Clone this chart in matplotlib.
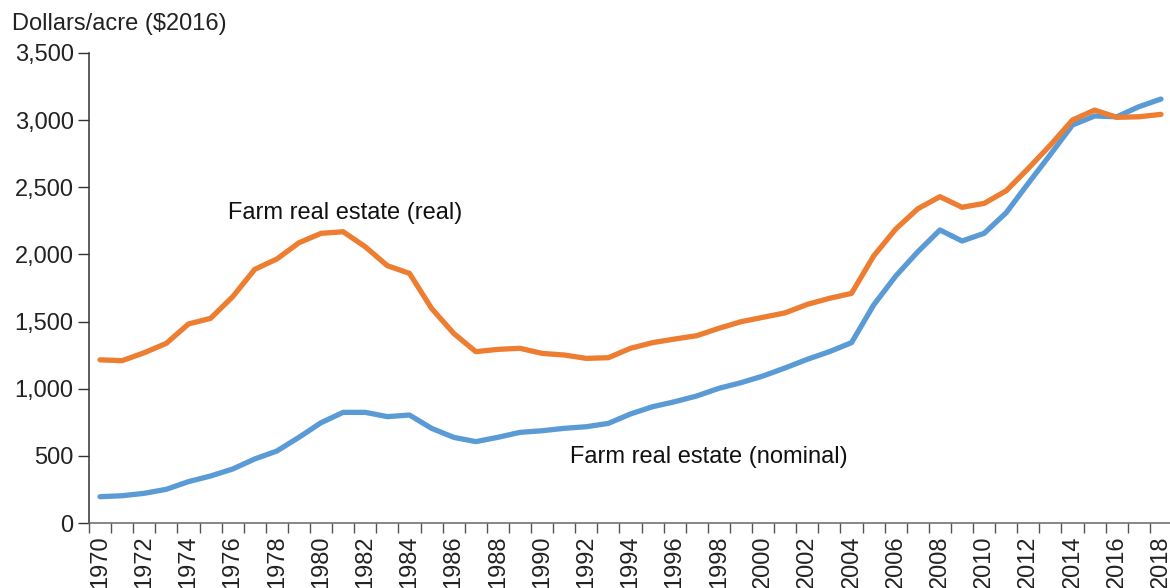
import numpy as np
import matplotlib.pyplot as plt

plt.rcParams['font.family'] = ['Liberation Sans', 'DejaVu Sans']

years = list(range(1970, 2019))

# Farm real estate value, dollars/acre ($2016)
real = [1215, 1209, 1268, 1338, 1482, 1524, 1685, 1889, 1966, 2087,
        2157, 2169, 2057, 1916, 1859, 1598, 1412, 1276, 1293, 1301,
        1263, 1251, 1226, 1231, 1301, 1343, 1370, 1395, 1450, 1499,
        1532, 1565, 1628, 1673, 1710, 1988, 2189, 2340, 2430, 2351,
        2380, 2474, 2641, 2815, 3001, 3075, 3021, 3025, 3043]

nominal = [196, 203, 221, 251, 308, 350, 402, 477, 536, 638,
           747, 824, 824, 792, 804, 705, 638, 606, 638, 675,
           687, 705, 717, 742, 812, 866, 903, 946, 1003, 1045,
           1095, 1155, 1219, 1276, 1343, 1623, 1839, 2020, 2182, 2100,
           2157, 2311, 2530, 2745, 2964, 3031, 3025, 3100, 3157]

label_real = 'Farm real estate (real)'
label_nominal = 'Farm real estate (nominal)'

x = np.arange(len(years))

fig = plt.figure(figsize=(11.7, 5.88), dpi=100)
ax = fig.add_axes([89 / 1170, 65 / 588, 1083 / 1170, 470 / 588])

ax.plot(x, nominal, color='#5B9BD5', lw=3.8, solid_capstyle='round', solid_joinstyle='round')
ax.plot(x, real, color='#ED7D31', lw=3.8, solid_capstyle='round', solid_joinstyle='round')

ax.set_xlim(-0.5, len(years) - 0.5)
ax.set_ylim(0, 3500)

# y axis
ax.set_yticks(np.arange(0, 3501, 500))
ax.set_yticklabels([f'{v:,}' for v in range(0, 3501, 500)], fontsize=17, color='#222222')
ax.tick_params(axis='y', length=8, width=1, color='#333333', pad=3)

# x axis: labels every other year, tick marks between categories
ax.set_xticks(x[::2])
ax.set_xticklabels([str(y) for y in years[::2]], rotation=90, fontsize=17, color='#222222')
ax.set_xticks(np.arange(-0.5, len(years), 1), minor=True)
ax.tick_params(axis='x', which='major', length=0, pad=9)
ax.tick_params(axis='x', which='minor', length=7, width=1, color='#555555')

for s in ['top', 'right']:
    ax.spines[s].set_visible(False)
ax.spines['left'].set_color('#333333')
ax.spines['bottom'].set_color('#666666')
ax.spines['left'].set_linewidth(1.1)
ax.spines['bottom'].set_linewidth(1.1)

ax.text(11.07, 2308, label_real, fontsize=17, ha='center', va='center', color='#111111')
ax.text(27.54, 494, label_nominal, fontsize=17, ha='center', va='center', color='#111111')

fig.text(12 / 1170, 1 - 24 / 588, 'Dollars/acre ($2016)', fontsize=17, ha='left', va='center', color='#222222')

fig.savefig('out.png', dpi=100)
